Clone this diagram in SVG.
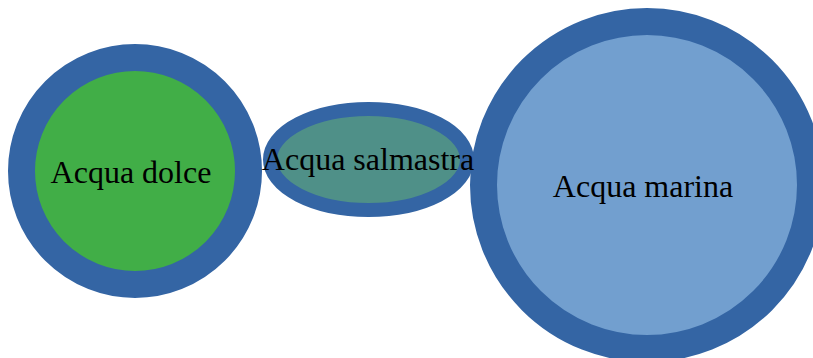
<svg xmlns="http://www.w3.org/2000/svg" width="813" height="358" viewBox="0 0 813 358">
<style>
.ring{stroke:#3465A4;stroke-width:27}
.lbl{font-family:"Liberation Serif","Times New Roman",serif;font-size:32px;fill:#000;text-anchor:middle}
</style>
<rect width="813" height="358" fill="#fff"/>
<g id="node-dolce">
<circle class="ring" cx="135" cy="171" r="113.5" fill="#41AE47"/>
<text class="lbl" x="131" y="183">Acqua dolce</text>
</g>
<g id="node-marina">
<circle class="ring" cx="647" cy="185" r="163.5" fill="#729FCF"/>
<text class="lbl" x="643" y="197">Acqua marina</text>
</g>
<g id="node-salmastra">
<ellipse class="ring" style="stroke-width:14" cx="368.5" cy="159.5" rx="98.5" ry="50.5" fill="#4F9088"/>
<text class="lbl" x="368" y="170">Acqua salmastra</text>
</g>
<g id="connectors"></g>
</svg>
